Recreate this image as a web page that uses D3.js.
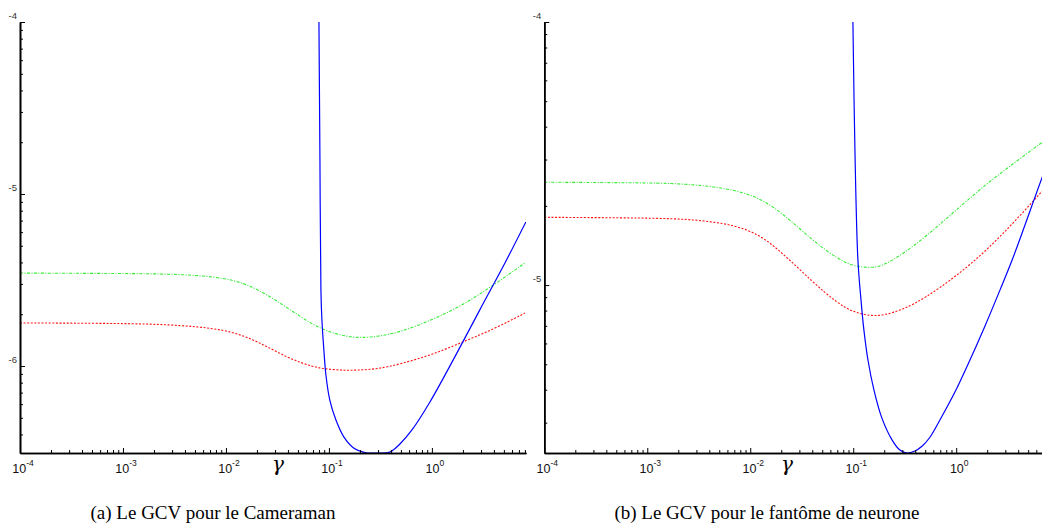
<!DOCTYPE html>
<html>
<head>
<meta charset="utf-8">
<script src="https://cdn.jsdelivr.net/npm/d3@7"></script>
<style>
  body { margin: 0; background: #fff; }
  svg { display: block; }
</style>
</head>
<body>
<svg width="1042" height="532"></svg>
<script>
// gamma values where the red / green curves were read
var gammaGrid = [1e-4, 1e-3, 3e-3, 0.01, 0.02, 0.04, 0.07, 0.1, 0.15, 0.2, 0.3, 0.5, 1, 2, 4, 8];

// (a) Cameraman
var camGreen = [3.47e-6, 3.45e-6, 3.43e-6, 3.29e-6, 2.84e-6, 2.17e-6, 1.73e-6, 1.58e-6, 1.48e-6, 1.46e-6, 1.48e-6, 1.58e-6, 1.85e-6, 2.26e-6, 2.96e-6, 3.97e-6];
var camRed = [1.78e-6, 1.77e-6, 1.74e-6, 1.64e-6, 1.40e-6, 1.11e-6, 9.87e-7, 9.55e-7, 9.42e-7, 9.48e-7, 9.61e-7, 1.03e-6, 1.16e-6, 1.38e-6, 1.64e-6, 2.03e-6];
var camBlueGamma = [0.0800, 0.0818, 0.0836, 0.0855, 0.0893, 0.0935, 0.102, 0.117, 0.140, 0.175, 0.229, 0.299, 0.391, 0.489, 0.640, 0.957, 1.67, 2.92, 5.12, 8.18];
var camBlue = [1e-4, 1.58e-5, 2.77e-6, 1.85e-6, 1.24e-6, 8.87e-7, 6.34e-7, 4.85e-7, 3.86e-7, 3.33e-7, 3.13e-7, 3.12e-7, 3.16e-7, 3.52e-7, 4.25e-7, 6.18e-7, 1.13e-6, 2.12e-6, 3.97e-6, 6.88e-6];

// (b) fantome de neurone
var neuGreen = [2.46e-5, 2.45e-5, 2.42e-5, 2.26e-5, 1.90e-5, 1.48e-5, 1.26e-5, 1.18e-5, 1.16e-5, 1.19e-5, 1.31e-5, 1.52e-5, 1.93e-5, 2.44e-5, 2.99e-5, 3.65e-5];
var neuRed = [1.81e-5, 1.80e-5, 1.78e-5, 1.66e-5, 1.34e-5, 1.03e-5, 8.54e-6, 7.89e-6, 7.62e-6, 7.69e-6, 8.04e-6, 8.93e-6, 1.08e-5, 1.36e-5, 1.80e-5, 2.44e-5];
var neuBlueGamma = [0.0993, 0.1039, 0.111, 0.119, 0.127, 0.139, 0.159, 0.190, 0.238, 0.284, 0.332, 0.397, 0.465, 0.556, 0.695, 0.972, 1.36, 1.90, 2.66, 3.56, 6.79, 8.2];
var neuBlue = [1e-4, 3.26e-5, 1.25e-5, 8.77e-6, 6.74e-6, 5.19e-6, 3.99e-6, 3.12e-6, 2.58e-6, 2.36e-6, 2.30e-6, 2.34e-6, 2.44e-6, 2.64e-6, 3.07e-6, 3.92e-6, 5.19e-6, 6.98e-6, 9.57e-6, 1.27e-5, 2.55e-5, 3.09e-5];

// axis labels
var xMajor = [1e-4, 1e-3, 1e-2, 1e-1, 1];
var xExp = ['-4', '-3', '-2', '-1', '0'];
var camYMajor = [1e-4, 1e-5, 1e-6];
var camYLabels = ['-4', '-5', '-6'];
var neuYMajor = [1e-4, 1e-5];
var neuYLabels = ['-4', '-5'];
var captions = ['(a) Le GCV pour le Cameraman', '(b) Le GCV pour le fantôme de neurone'];

var svg = d3.select('svg');

var panels = [
  { id: 'a', x0: 20, x1: 526, yMin: 3.12e-7, green: camGreen, red: camRed,
    blueG: camBlueGamma, blue: camBlue, yMajor: camYMajor, yLabels: camYLabels,
    gammaX: 278, capX: 213 },
  { id: 'b', x0: 544.3, x1: 1050.3, yMin: 2.30e-6, green: neuGreen, red: neuRed,
    blueG: neuBlueGamma, blue: neuBlue, yMajor: neuYMajor, yLabels: neuYLabels,
    gammaX: 787, capX: 767 }
];

var plotTop = 22, plotBottom = 453;

function minorTicks(lo, hi) {
  var out = [];
  for (var e = -8; e <= 1; e++) {
    for (var k = 2; k <= 9; k++) {
      var v = k * Math.pow(10, e);
      if (v > lo && v < hi) out.push(v);
    }
  }
  return out;
}

panels.forEach(function(p, i) {
  var x = d3.scaleLog().domain([1e-4, 8.2]).range([p.x0, p.x1]);
  var y = d3.scaleLog().domain([p.yMin, 1e-4]).range([plotBottom, plotTop]);

  var g = svg.append('g');

  g.append('clipPath').attr('id', 'clip' + p.id)
    .append('rect')
    .attr('x', p.x0).attr('y', plotTop - 1)
    .attr('width', p.x1 - p.x0).attr('height', plotBottom - plotTop + 1);

  var smooth = d3.line()
    .x(function(d) { return x(d[0]); })
    .y(function(d) { return y(d[1]); })
    .curve(d3.curveBasis);

  var plot = g.append('g').attr('clip-path', 'url(#clip' + p.id + ')');

  plot.append('path')
    .datum(gammaGrid.map(function(v, j) { return [v, p.green[j]]; }))
    .attr('d', smooth)
    .attr('fill', 'none')
    .attr('stroke', '#33ee33')
    .attr('stroke-width', 1.1)
    .attr('stroke-dasharray', '3,1.5,1,1.5');

  plot.append('path')
    .datum(gammaGrid.map(function(v, j) { return [v, p.red[j]]; }))
    .attr('d', smooth)
    .attr('fill', 'none')
    .attr('stroke', '#ff1111')
    .attr('stroke-width', 1.1)
    .attr('stroke-dasharray', '2,1.6');

  plot.append('path')
    .datum(p.blueG.map(function(v, j) { return [v, p.blue[j]]; }))
    .attr('d', d3.line()
      .x(function(d) { return x(d[0]); })
      .y(function(d) { return y(d[1]); })
      .curve(d3.curveCatmullRom))
    .attr('fill', 'none')
    .attr('stroke', '#0000ff')
    .attr('stroke-width', 1.2);

  // x axis: major + minor ticks pointing up
  var xAxisG = g.append('g').attr('transform', 'translate(0,' + plotBottom + ')');
  xAxisG.append('g')
    .call(d3.axisBottom(x).tickValues(minorTicks(1e-4, 8.2)).tickSizeInner(-3).tickSizeOuter(0).tickFormat(''));
  xAxisG.append('g')
    .call(d3.axisBottom(x).tickValues(xMajor).tickSizeInner(-5).tickSizeOuter(0).tickFormat(''));

  // y axis
  var yAxisG = g.append('g').attr('transform', 'translate(' + p.x0 + ',0)');
  yAxisG.append('g')
    .call(d3.axisLeft(y).tickValues(minorTicks(p.yMin, 1e-4)).tickSizeInner(-3).tickSizeOuter(0).tickFormat(''));
  yAxisG.append('g')
    .call(d3.axisLeft(y).tickValues(p.yMajor).tickSizeInner(-5).tickSizeOuter(0).tickFormat(''));

  g.selectAll('.domain').attr('stroke', '#000').attr('stroke-width', 1.6);
  g.selectAll('.tick line').attr('stroke', '#000').attr('stroke-width', 1);

  // x tick labels 10^k
  var xl = g.selectAll('text.xl')
    .data(xMajor)
    .enter()
    .append('text')
    .attr('class', 'xl')
    .attr('x', function(d) { return x(d) + 3; })
    .attr('y', 473)
    .attr('text-anchor', 'middle')
    .attr('font-family', 'Liberation Sans, Arial, sans-serif')
    .attr('font-size', 12.5)
    .attr('fill', '#111');
  xl.append('tspan').text('10');
  xl.append('tspan')
    .attr('dy', -7)
    .attr('font-size', 8.5)
    .text(function(d, j) { return xExp[j]; });

  // y tick labels (exponents only)
  g.selectAll('text.yl')
    .data(p.yMajor)
    .enter()
    .append('text')
    .attr('class', 'yl')
    .attr('x', p.x0 - 3)
    .attr('y', function(d) { return y(d) - 3; })
    .attr('text-anchor', 'end')
    .attr('font-family', 'Liberation Sans, Arial, sans-serif')
    .attr('font-size', 9.5)
    .attr('fill', '#333')
    .text(function(d, j) { return p.yLabels[j]; });

  // gamma label
  g.append('text')
    .attr('x', p.gammaX)
    .attr('y', 471)
    .attr('text-anchor', 'middle')
    .attr('font-family', 'DejaVu Serif, serif')
    .attr('font-style', 'italic')
    .attr('font-size', 20)
    .attr('fill', '#000')
    .text('γ');

  // caption
  svg.append('text')
    .attr('x', p.capX)
    .attr('y', 519)
    .attr('text-anchor', 'middle')
    .attr('font-family', 'Liberation Serif, serif')
    .attr('font-size', 19)
    .attr('fill', '#000')
    .text(captions[i]);
});
</script>
</body>
</html>
